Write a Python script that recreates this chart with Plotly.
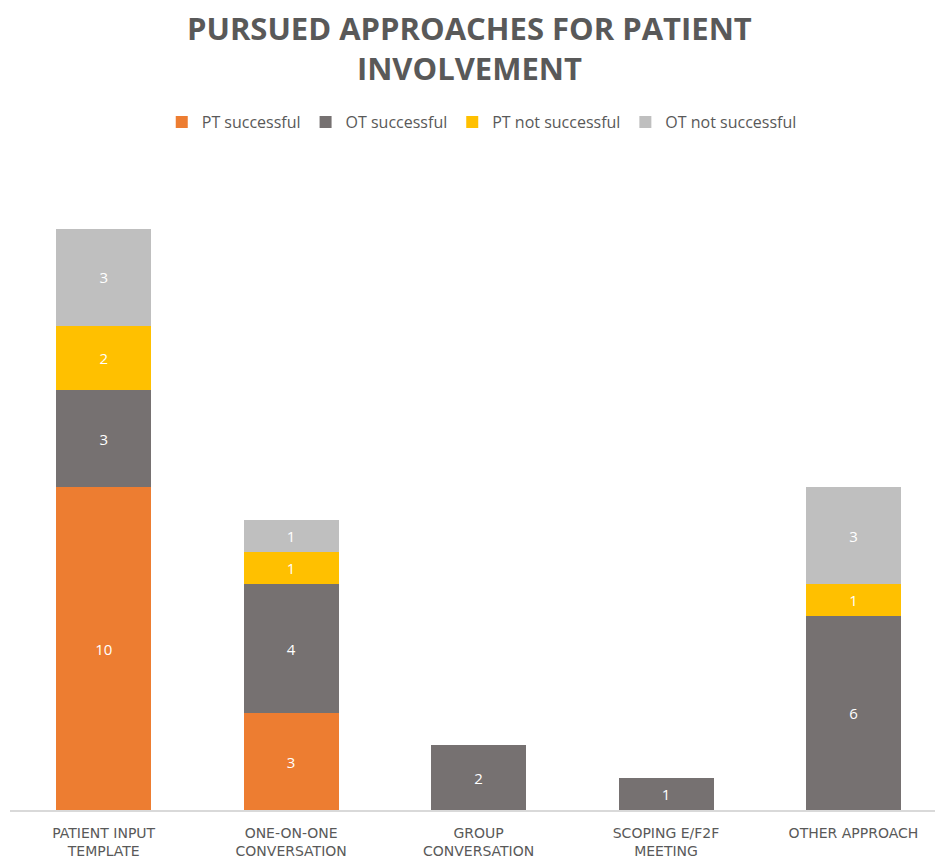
import plotly.graph_objects as go

categories = ["PATIENT INPUT<br>TEMPLATE", "ONE-ON-ONE<br>CONVERSATION", "GROUP<br>CONVERSATION",
              "SCOPING E/F2F<br>MEETING", "OTHER APPROACH"]
pt_successful = [10, 3, None, None, None]
ot_successful = [3, 4, 2, 1, 6]
pt_not_successful = [2, 1, None, None, 1]
ot_not_successful = [3, 1, None, None, 3]

series = [
    ("PT successful", pt_successful, "#ED7D31"),
    ("OT successful", ot_successful, "#767171"),
    ("PT not successful", pt_not_successful, "#FFC000"),
    ("OT not successful", ot_not_successful, "#BFBFBF"),
]

fig = go.Figure()
for name, vals, color in series:
    fig.add_trace(go.Bar(
        x=list(range(len(categories))), y=vals, name=name,
        marker=dict(color=color, line=dict(width=0)),
        text=[str(v) if v else "" for v in vals],
        textposition="inside", insidetextanchor="middle",
        textfont=dict(color="white", size=15, family="Open Sans"),
        texttemplate="%{text}",
    ))

fig.add_annotation(
    text="<b>PURSUED APPROACHES FOR PATIENT<br>INVOLVEMENT</b>",
    xref="paper", yref="paper", x=0.497, y=1.386, xanchor="center", yanchor="top",
    showarrow=False, align="center",
    font=dict(family="Open Sans", size=31, color="#595959"),
)

fig.update_layout(
    template="none",
    width=935, height=859,
    barmode="stack", bargap=0.493,
    paper_bgcolor="white", plot_bgcolor="white",
    margin=dict(l=10, r=0, t=229, b=49),
    legend=dict(
        orientation="h", x=0.51, xanchor="center", y=1.184, yanchor="middle",
        font=dict(family="Open Sans", size=16, color="#595959"),
        itemwidth=30, traceorder="normal",
    ),
    showlegend=True,
    uniformtext=dict(minsize=10, mode="show"),
)
fig.update_xaxes(
    tickmode="array", tickvals=list(range(len(categories))), ticktext=categories,
    range=[-0.5, 4.435], showgrid=False, zeroline=False,
    showline=True, linecolor="#D9D9D9", linewidth=1.5,
    ticks="", ticklabelstandoff=9, automargin=False,
    tickfont=dict(family="DejaVu Sans", size=14, color="#595959"),
)
fig.update_yaxes(range=[0, 18], visible=False, showgrid=False, zeroline=False, automargin=False)

fig.write_html("out.html")
